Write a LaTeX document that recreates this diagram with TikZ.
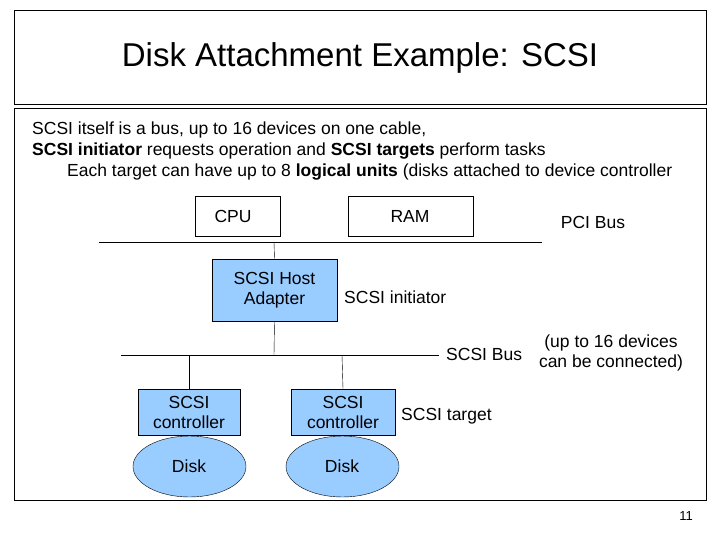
\documentclass[tikz,border=0pt]{standalone}
\usepackage{fontspec}
\setmainfont{Liberation Sans}
\usetikzlibrary{shapes.geometric}
\begin{document}
\begin{tikzpicture}[x=1pt,y=-1pt,
  t/.style={font=\fontsize{17.5}{20}\selectfont,inner sep=0}]
\definecolor{lb}{HTML}{99CCFF}
\useasboundingbox (0,0) rectangle (720,540);
\draw (14,10) rectangle (706,104);
\node[font=\fontsize{33}{38}\selectfont] (title) at (360,58) {Disk Attachment Example: SCSI};
\draw (14,108) rectangle (706,500);
\node[t,anchor=west] (l1) at (32,130) {SCSI itself is a bus, up to 16 devices on one cable,};
\node[t,anchor=west] (l2) at (32,151) {\textbf{SCSI initiator} requests operation and \textbf{SCSI targets} perform tasks};
\node[t,anchor=west] (l3) at (67,172) {Each target can have up to 8 \textbf{logical units} (disks attached to device controller};
\node[draw,minimum width=85,minimum height=40] (cpu) at (237.5,216) {};
\node[t] at (233,216) {CPU};
\node[draw,minimum width=125,minimum height=40] (ram) at (410.5,216) {};
\node[t] at (410,216) {RAM};
\node[t] (pci) at (593,222) {PCI Bus};
\coordinate (p1) at (99,242); \coordinate (p2) at (542,242);
\draw (p1) -- (p2);
\node[draw,fill=lb,minimum width=125,minimum height=62,t,align=center] (hba) at (274.5,290) {SCSI Host\\Adapter};
\node[t,anchor=west] (init) at (344,297) {SCSI initiator};
\coordinate (b1) at (121,355); \coordinate (b2) at (439,355);
\draw (b1) -- (b2);
\draw (274,242) -- (hba.north);
\draw (hba.south) -- (274,355);
\node[t,anchor=west] (sbus) at (446,354) {SCSI Bus};
\node[t,align=center] (up) at (611,353) {(up to 16 devices\\can be connected)};
\node[draw,fill=lb,minimum width=102,minimum height=46,t,align=center] (c1) at (189,412) {SCSI\\controller};
\node[draw,fill=lb,minimum width=104,minimum height=46,t,align=center] (c2) at (343,412) {SCSI\\controller};
\node[t,anchor=west] (tgt) at (401,416) {SCSI target};
\draw (189,355) -- (c1.north);
\draw (342,355) -- (c2.north);
\node[draw,fill=lb,ellipse,minimum width=113,minimum height=61,inner sep=0] (d1) at (189.5,466.5) {};
\node[t] at (189,466) {Disk};
\node[draw,fill=lb,ellipse,minimum width=113,minimum height=61,inner sep=0] (d2) at (342.5,466.5) {};
\node[t] at (342,466) {Disk};
\node[font=\fontsize{13}{15}\selectfont] (pg) at (686,516) {11};
\end{tikzpicture}
\end{document}
